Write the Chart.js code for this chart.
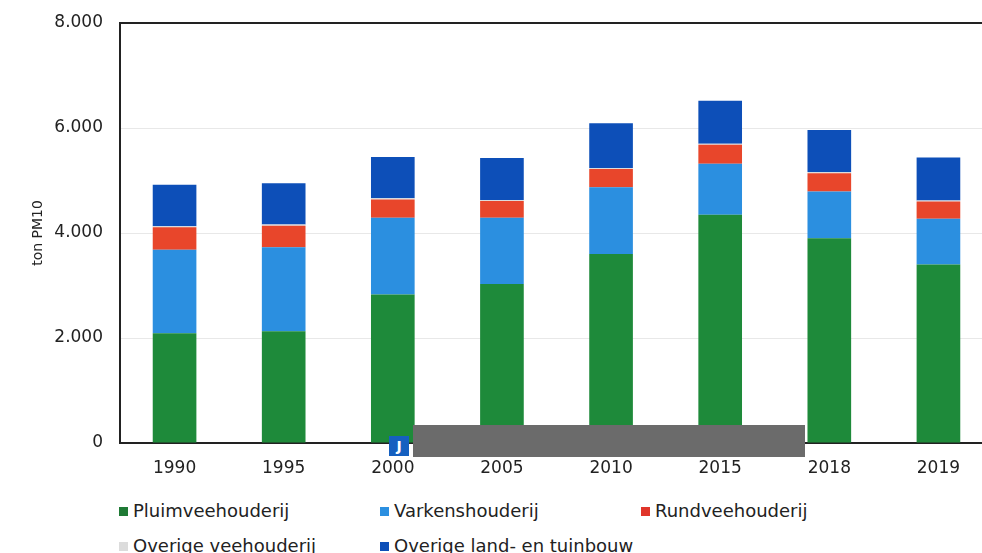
<!DOCTYPE html>
<html>
<head>
<meta charset="utf-8">
<script src="https://cdn.jsdelivr.net/npm/chart.js@4"></script>
<style>
  html, body { margin: 0; padding: 0; background: #fff; overflow: hidden; width: 982px; height: 553px; }
  #wrap { position: absolute; left: 0; top: 0; width: 993px; height: 480px; }
  .leg { position: absolute; font-family: "DejaVu Sans", Verdana, sans-serif; font-size: 18px; color: #222; white-space: nowrap; line-height: 20px; }
  .leg span.m { position: absolute; left: 0; top: 6px; width: 9px; height: 9px; }
  .leg span.t { position: absolute; left: 14px; top: 0; }
  #grey { position: absolute; left: 413px; top: 425px; width: 392px; height: 32px; background: #6b6b6b; }
  #jbox { position: absolute; left: 389px; top: 436px; width: 20px; height: 20px; background: #1560c0; color: #fff; font: bold 14px "DejaVu Sans", sans-serif; text-align: center; line-height: 20px; }
</style>
</head>
<body>
<div id="wrap"><canvas id="c" width="993" height="480"></canvas></div>
<div id="legend"></div>
<div id="grey"></div>
<div id="jbox">J</div>
<script>
const categories = ["1990", "1995", "2000", "2005", "2010", "2015", "2018", "2019"];
const seriesNames = ["Pluimveehouderij", "Varkenshouderij", "Rundveehouderij", "Overige veehouderij", "Overige land- en tuinbouw"];
const pluimvee = [2090, 2130, 2830, 3030, 3600, 4350, 3900, 3400];
const varkens  = [1590, 1600, 1460, 1260, 1270,  970,  890,  870];
const rundvee  = [ 430,  410,  350,  320,  350,  360,  350,  330];
const overigVee = [ 20,   20,   20,   20,   20,   20,   20,   20];
const overigLand = [790,  790,  790,  800,  850,  820,  800,  820];
const yTicks = [0, 2000, 4000, 6000, 8000];

const colors = ["#1e8a3a", "#2b8fe0", "#e8462b", "#dcdcdc", "#0d4fb8"];
const legendColors = ["#1f7a35", "#2b8fe0", "#e0352a", "#dcdcdc", "#0d4fb8"];
const seriesValues = [pluimvee, varkens, rundvee, overigVee, overigLand];

const FONT = "'DejaVu Sans', Verdana, sans-serif";

new Chart(document.getElementById('c'), {
  type: 'bar',
  data: {
    labels: categories,
    datasets: seriesNames.map((n, i) => ({
      label: n,
      data: seriesValues[i],
      backgroundColor: colors[i],
      borderWidth: 0,
      barPercentage: 0.4,
      categoryPercentage: 1.0
    }))
  },
  options: {
    responsive: false,
    animation: false,
    layout: { padding: { top: 23, left: 0, right: 0, bottom: 0 } },
    plugins: { legend: { display: false }, tooltip: { enabled: false } },
    scales: {
      x: {
        stacked: true,
        grid: { display: false, drawTicks: false },
        border: { color: '#222', width: 2 },
        ticks: { color: '#222', font: { family: FONT, size: 17 }, padding: 15, maxRotation: 0 },
        afterFit: s => { s.height = 37; }
      },
      y: {
        stacked: true,
        min: 0, max: 8000,
        afterBuildTicks: s => { s.ticks = yTicks.map(v => ({ value: v })); },
        grid: {
          drawTicks: false,
          color: c => (c.tick && c.tick.value === 8000) ? '#222' : '#e8e8e8',
          lineWidth: c => (c.tick && c.tick.value === 8000) ? 2 : 1
        },
        border: { color: '#222', width: 2 },
        ticks: {
          color: '#222', font: { family: FONT, size: 17, lineHeight: 0.5 }, padding: 17,
          callback: v => v === 0 ? '0' : (v / 1000).toFixed(3)
        },
        title: { display: true, text: 'ton PM10', color: '#222', font: { family: FONT, size: 14 }, padding: { top: 30 } },
        afterFit: s => { s.width = 120; }
      }
    }
  }
});

// HTML legend built from the series names
const legendPos = [[119, 501], [380, 501], [641, 501], [119, 536], [380, 536]];
const legEl = document.getElementById('legend');
seriesNames.forEach((n, i) => {
  const d = document.createElement('div');
  d.className = 'leg';
  d.style.left = legendPos[i][0] + 'px';
  d.style.top = legendPos[i][1] + 'px';
  d.innerHTML = '<span class="m" style="background:' + legendColors[i] + '"></span><span class="t">' + n + '</span>';
  legEl.appendChild(d);
});
</script>
</body>
</html>
